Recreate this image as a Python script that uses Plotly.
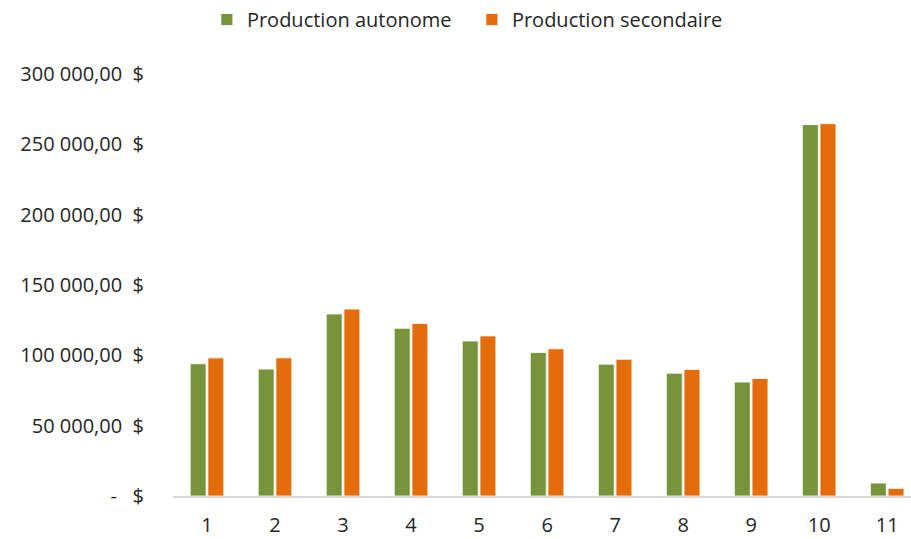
import plotly.graph_objects as go

# Montants par catégorie (en $)
categories = ["1", "2", "3", "4", "5", "6", "7", "8", "9", "10", "11"]
production_autonome = [94000, 90200, 129400, 119200, 110200, 102000, 93700, 87300, 81000, 264000, 9200]
production_secondaire = [98200, 98200, 132900, 122700, 113800, 104600, 97200, 90000, 83600, 264700, 5400]

tick_values = [0, 50000, 100000, 150000, 200000, 250000, 300000]
tick_labels = ["-   $", "50 000,00  $", "100 000,00  $", "150 000,00  $",
               "200 000,00  $", "250 000,00  $", "300 000,00  $"]

GREEN = "#77933C"
ORANGE = "#E46C0A"
FONT = "Open Sans"
TEXT = "#262626"

fig = go.Figure()
fig.add_trace(go.Bar(
    name="Production autonome", x=categories, y=production_autonome,
    marker=dict(color=GREEN, line=dict(color="rgba(255,255,255,0.8)", width=1)),
))
fig.add_trace(go.Bar(
    name="Production secondaire", x=categories, y=production_secondaire,
    marker=dict(color=ORANGE, line=dict(color="rgba(255,255,255,0.8)", width=1)),
))

fig.update_layout(
    width=911, height=539,
    margin=dict(l=173, r=0, t=72, b=43),
    paper_bgcolor="white", plot_bgcolor="white",
    barmode="group", bargap=0.48, bargroupgap=0.1,
    font=dict(family=FONT, size=20, color=TEXT),
    legend=dict(
        orientation="h", x=0.405, xanchor="center", y=1.13, yanchor="middle",
        font=dict(family=FONT, size=20, color=TEXT),
        itemwidth=30, traceorder="normal",
        entrywidth=220, entrywidthmode="pixels",
    ),
    xaxis=dict(
        type="category", range=[-0.5, 10.35],
        showline=True, linecolor="#D9D9D9", linewidth=1.5,
        showgrid=False, ticks="", ticklabelstandoff=10,
        tickfont=dict(size=20, color=TEXT),
    ),
    yaxis=dict(
        range=[0, 300000], tickvals=tick_values, ticktext=tick_labels,
        showgrid=False, zeroline=False, showline=False, ticks="",
        ticklabelstandoff=28,
        tickfont=dict(size=20, color=TEXT),
    ),
)

fig.write_html("out.html")
